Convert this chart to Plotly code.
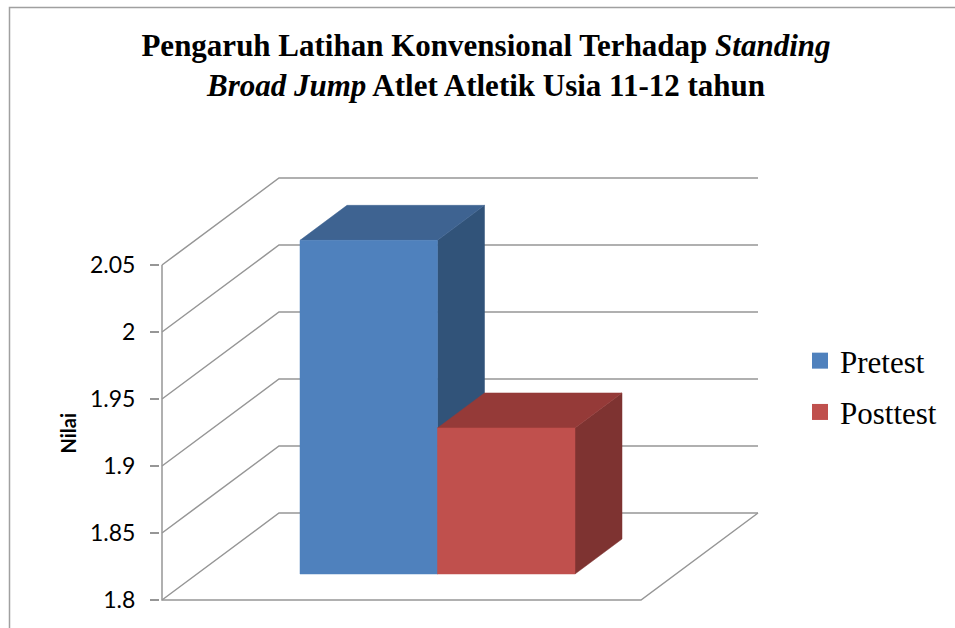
import plotly.graph_objects as go

categories = ["Pretest", "Posttest"]
values = [2.049, 1.909]
tick_values = [1.8, 1.85, 1.9, 1.95, 2.0, 2.05]
tick_labels = ["1.8", "1.85", "1.9", "1.95", "2", "2.05"]
front_colors = ["#4F81BD", "#C0504D"]
top_colors = ["#3E6391", "#953A38"]
side_colors = ["#315379", "#7E3331"]

W, H = 955, 628
# pixel positions of the oblique frame's front edge
FL, FR, FT, FB = 162, 641, 265, 600
# subplot box, a little larger so that the walls fit inside it
L, R, T, B = 160, 765, 170, 604
GRID = "#969696"

bar_w = 137.5
py = (FB - FT) / (tick_values[-1] - tick_values[0])   # pixels per y-unit
y_lo = tick_values[0]
y_hi = tick_values[-1]
x_lo, x_hi = 0.0, (FR - FL) / bar_w
# axis ranges that keep the front edge where it belongs
range_x = [x_lo - (FL - L) / bar_w, x_hi + (R - FR) / bar_w]
range_y = [y_lo - (B - FB) / py, y_hi + (FT - T) / py]
# oblique depth offsets
wall_dx, wall_dy = 117 / bar_w, 87 / py
seat_dx, seat_dy = 35 / bar_w, 26 / py
depth_dx, depth_dy = 47 / bar_w, 35 / py
bar_start = (300 - FL) / bar_w - seat_dx

fig = go.Figure()


def line(xs, ys):
    fig.add_trace(go.Scatter(
        x=xs, y=ys, mode="lines", line=dict(color=GRID, width=1.5),
        showlegend=False, hoverinfo="skip"))


# walls and gridlines
for t in tick_values:
    line([x_lo, x_lo + wall_dx, x_hi + wall_dx], [t, t + wall_dy, t + wall_dy])
# floor edges and the value axis line
line([x_hi + wall_dx, x_hi, x_lo, x_lo], [y_lo + wall_dy, y_lo, y_lo, y_hi])


def poly(xs, ys, color, name):
    fig.add_trace(go.Scatter(
        x=xs, y=ys, mode="lines", fill="toself", fillcolor=color,
        line=dict(color=color, width=0.5), name=name,
        showlegend=False, hoverinfo="name"))


for i, v in enumerate(values):
    a = bar_start + seat_dx + i
    b = a + 1
    base = y_lo + seat_dy
    top = v + seat_dy
    poly([b, b + depth_dx, b + depth_dx, b, b],
         [base, base + depth_dy, top + depth_dy, top, base], side_colors[i], categories[i])
    poly([a, a + depth_dx, b + depth_dx, b, a],
         [top, top + depth_dy, top + depth_dy, top, top], top_colors[i], categories[i])
    poly([a, b, b, a, a], [base, base, top, top, base], front_colors[i], categories[i])

# legend keys
for name, c in zip(categories, front_colors):
    fig.add_trace(go.Scatter(
        x=[None], y=[None], mode="markers", name=name, legendgroup=name,
        marker=dict(symbol="square", size=17, color=c)))

PW, PH = R - L, B - T
fig.update_layout(
    width=W, height=H,
    margin=dict(l=L, r=W - R, t=T, b=H - B, autoexpand=False),
    paper_bgcolor="white", plot_bgcolor="rgba(0,0,0,0)",
    title=dict(
        text="<b>Pengaruh Latihan Konvensional Terhadap <i>Standing</i><br>"
             "<i>Broad Jump</i> Atlet Atletik Usia 11-12 tahun</b>",
        font=dict(family="Liberation Serif", size=31, color="black"),
        x=486 / W, xanchor="center", y=1 - 55.5 / H, yanchor="middle"),
    xaxis=dict(range=range_x, showgrid=False, zeroline=False, showticklabels=False,
               ticks="", showline=False),
    yaxis=dict(range=range_y, tickvals=tick_values, ticktext=tick_labels,
               showgrid=False, zeroline=False, showline=False,
               ticks="outside", ticklen=9, tickcolor=GRID, tickwidth=1.5,
               ticklabelstandoff=10,
               tickfont=dict(family="Lato", size=23, color="black")),
    legend=dict(x=(800 - L) / PW, xanchor="left", y=1 - (334 - T) / PH, yanchor="top",
                font=dict(family="Liberation Serif", size=31, color="black"),
                tracegroupgap=8, bgcolor="rgba(0,0,0,0)"),
    annotations=[dict(text="<b>Nilai</b>", textangle=-90, showarrow=False,
                      xref="paper", yref="paper",
                      x=(67.5 - L) / PW, y=(B - 433) / PH, xanchor="center", yanchor="middle",
                      font=dict(family="Lato", size=20, color="black"))],
    shapes=[dict(type="rect", xref="paper", yref="paper",
                 x0=(9.5 - L) / PW, x1=(1000 - L) / PW,
                 y0=(B - 660) / PH, y1=(B - 7.5) / PH,
                 line=dict(color="#A0A0A0", width=1.5), layer="below")],
)

fig.write_html("out.html", config=dict(displayModeBar=False),
               post_script="document.body.style.margin='0';")
